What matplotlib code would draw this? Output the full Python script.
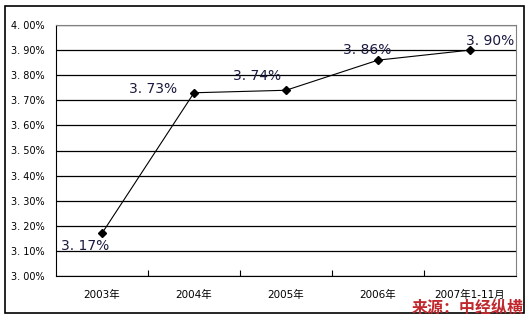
import matplotlib
matplotlib.use("Agg")
import matplotlib.pyplot as plt
from matplotlib.patches import Rectangle

categories = ["2003年", "2004年", "2005年", "2006年", "2007年1-11月"]
values = [3.17, 3.73, 3.74, 3.86, 3.90]
value_labels = ["3. 17%", "3. 73%", "3. 74%", "3. 86%", "3. 90%"]
yticks = [3.00, 3.10, 3.20, 3.30, 3.40, 3.50, 3.60, 3.70, 3.80, 3.90, 4.00]
ytick_labels = ["3. 00%", "3. 10%", "3. 20%", "3. 30%", "3. 40%", "3. 50%",
                "3. 60%", "3. 70%", "3. 80%", "3. 90%", "4. 00%"]
source = "来源：中经纵横"

plt.rcParams['font.family'] = ['DejaVu Sans', 'Noto Sans CJK SC']

W, H = 531, 319
fig = plt.figure(figsize=(W / 100, H / 100), dpi=100)
fig.patch.set_facecolor("white")

# outer frame
fig.patches.append(Rectangle((5 / W, 1 - 313 / H), (524 - 5) / W, (313 - 6) / H,
                             transform=fig.transFigure, fill=False,
                             edgecolor="black", linewidth=1.2))

ax = fig.add_axes([56 / W, 1 - 276 / H, (516 - 56) / W, (276 - 25) / H])
x = list(range(len(categories)))
ax.plot(x, values, color="black", linewidth=0.8, marker="D", markersize=4,
        markerfacecolor="black", markeredgecolor="black", zorder=3)

ax.set_xlim(-0.5, len(categories) - 0.5)
ax.set_ylim(3.0, 4.0)
ax.set_yticks(yticks)
ax.set_yticklabels(ytick_labels, fontsize=7)
ax.set_xticks(x)
ax.set_xticklabels(categories, fontsize=7.5)
ax.set_xticks([i + 0.5 for i in range(len(categories) - 1)], minor=True)
ax.tick_params(axis="x", which="major", length=0, pad=10)
ax.tick_params(axis="x", which="minor", length=4, direction="in", width=0.8)
ax.tick_params(axis="y", length=0, pad=8)
ax.yaxis.grid(True, color="black", linewidth=0.9)
ax.set_axisbelow(True)
for s in ["top", "right"]:
    ax.spines[s].set_color("#808080")
for s in ["left", "bottom"]:
    ax.spines[s].set_color("black")

offsets = [(-17, -13), (-41, 4), (-29, 14), (-11, 10), (20, 9)]
for xi, v, lab, off in zip(x, values, value_labels, offsets):
    ax.annotate(lab, (xi, v), xytext=off, textcoords="offset pixels",
                ha="center", va="center", fontsize=10, color="#1a1a40")

fig.text(524 / W, 1 - 308 / H, source, ha="right", va="center", fontsize=11.5,
         fontweight="bold", style="italic", color="#c0282d",
         family=['Noto Sans CJK SC', 'DejaVu Sans'])

fig.savefig("out.png", dpi=100)
